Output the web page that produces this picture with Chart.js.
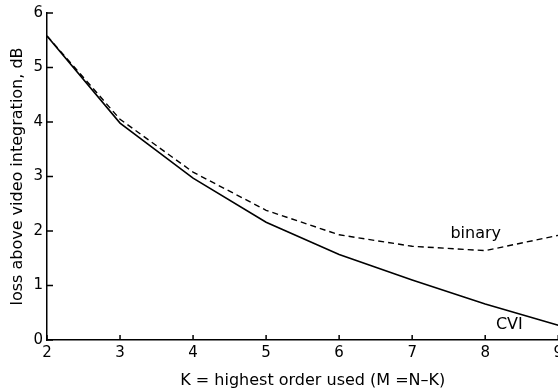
<!DOCTYPE html>
<html>
<head>
<meta charset="utf-8">
<script src="https://cdn.jsdelivr.net/npm/chart.js@4"></script>
<style>
  html, body { margin: 0; padding: 0; background: #fff; overflow: hidden; }
  #wrap { width: 567px; height: 392px; }
</style>
</head>
<body>
<div id="wrap"><canvas id="loss" width="567" height="392"></canvas></div>
<script>
const orders = [2, 3, 4, 5, 6, 7, 8, 9];
const cviLoss = [5.58, 3.98, 2.97, 2.16, 1.57, 1.10, 0.66, 0.27];
const binaryLoss = [5.58, 4.05, 3.08, 2.38, 1.93, 1.72, 1.64, 1.92];
const yTicks = [0, 1, 2, 3, 4, 5, 6];
const curveLabels = [
  { text: 'binary', x: 7.87, y: 1.94 },
  { text: 'CVI', x: 8.33, y: 0.27 }
];

const font = "'DejaVu Sans', sans-serif";

// ticks drawn inward, like the original figure
const inwardTicks = {
  id: 'inwardTicks',
  afterDraw(chart) {
    const ctx = chart.ctx;
    const xs = chart.scales.x, ys = chart.scales.y;
    const a = chart.chartArea;
    ctx.save();
    ctx.strokeStyle = '#000';
    ctx.lineWidth = 1.5;
    ctx.beginPath();
    orders.forEach(v => {
      const px = xs.getPixelForValue(v);
      ctx.moveTo(px, a.bottom);
      ctx.lineTo(px, a.bottom - 5);
    });
    yTicks.forEach(v => {
      const py = ys.getPixelForValue(v);
      ctx.moveTo(a.left, py);
      ctx.lineTo(a.left + 6, py);
    });
    ctx.stroke();
    ctx.fillStyle = '#000';
    ctx.font = '16px ' + font;
    ctx.textAlign = 'center';
    ctx.textBaseline = 'middle';
    curveLabels.forEach(l => {
      ctx.fillText(l.text, xs.getPixelForValue(l.x), ys.getPixelForValue(l.y));
    });
    ctx.restore();
  }
};

new Chart(document.getElementById('loss').getContext('2d'), {
  type: 'line',
  data: {
    datasets: [{
      label: 'CVI',
      data: orders.map((k, i) => ({ x: k, y: cviLoss[i] })),
      borderColor: '#000',
      borderWidth: 1.6,
      pointRadius: 0,
      tension: 0
    }, {
      label: 'binary',
      data: orders.map((k, i) => ({ x: k, y: binaryLoss[i] })),
      borderColor: '#000',
      borderWidth: 1.4,
      borderDash: [6, 4],
      pointRadius: 0,
      tension: 0
    }]
  },
  options: {
    responsive: false,
    animation: false,
    layout: { padding: { top: 13, right: 0, left: 0, bottom: 0 } },
    plugins: { legend: { display: false }, tooltip: { enabled: false } },
    scales: {
      x: {
        type: 'linear',
        min: 2, max: 9,
        grid: { display: false, drawTicks: false },
        border: { display: true, color: '#000', width: 1.5 },
        ticks: { stepSize: 1, color: '#000', padding: 4, font: { family: font, size: 15 } },
        title: {
          display: true,
          text: '\u00a0\u00a0\u00a0\u00a0K = highest order used (M =N\u2013K)',
          color: '#000',
          padding: { top: 0, bottom: 2 },
          font: { family: font, size: 16 }
        },
        afterFit: scale => { scale.height = 52; }
      },
      y: {
        min: 0, max: 6,
        grid: { display: false, drawTicks: false },
        border: { display: true, color: '#000', width: 1.5 },
        ticks: { stepSize: 1, color: '#000', padding: 4, font: { family: font, size: 15 } },
        title: {
          display: true,
          text: 'loss above video integration, dB',
          color: '#000',
          padding: { top: 8, bottom: 0 },
          font: { family: font, size: 16 }
        },
        afterFit: scale => { scale.width = 47; }
      }
    }
  },
  plugins: [inwardTicks]
});
</script>
</body>
</html>
